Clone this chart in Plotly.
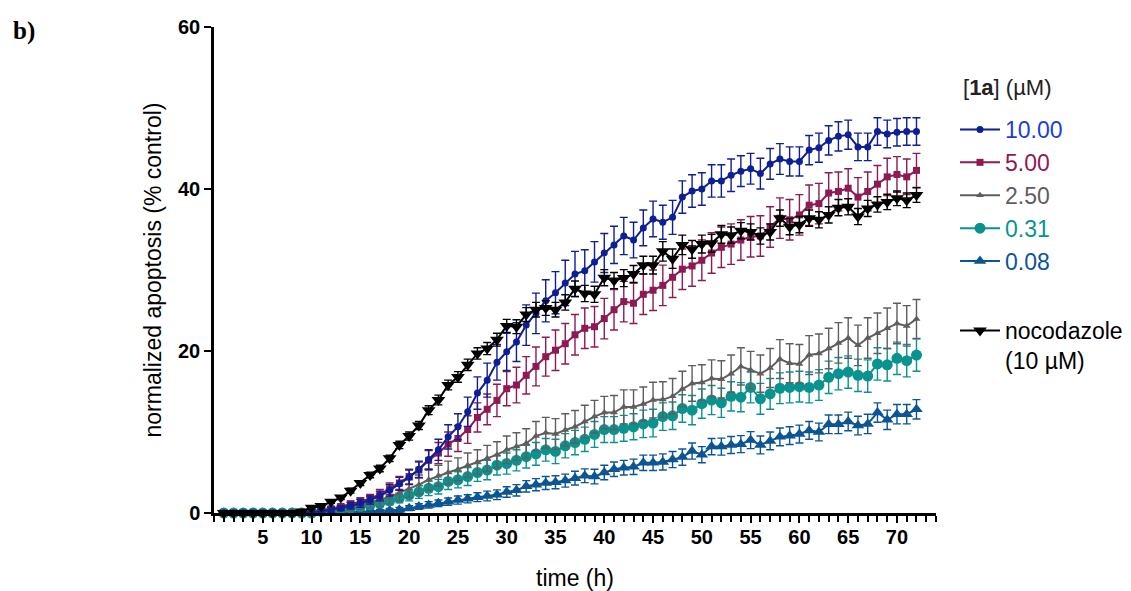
import plotly.graph_objects as go

hours = list(range(1, 73))

c10_00 = [0, 0, 0, 0, 0, 0, 0, 0, 0, 0.1,
          0.2, 0.4, 0.6, 0.9, 1.2, 1.6, 2.1, 2.8, 3.6, 4.4,
          5.4, 6.6, 7.8, 9.4, 10.65, 12.5, 14.8, 16.4, 18.6, 19.9,
          21.1, 23.2, 24.65, 26.2, 27.2, 28.4, 29.5, 29.9, 31.0, 32.1,
          33.1, 34.2, 33.7, 35.2, 36.3, 35.9, 36.5, 39.0, 39.75, 40.0,
          41.0, 41.0, 41.7, 42.2, 42.5, 41.9, 43.1, 43.7, 43.4, 43.4,
          44.8, 45.1, 46.0, 46.5, 46.7, 45.2, 45.2, 47.1, 46.8, 47.0,
          47.1, 47.1]
e10_00 = [0.1, 0.1, 0.1, 0.1, 0.1, 0.1, 0.1, 0.1, 0.1, 0.1,
          0.2, 0.3, 0.3, 0.4, 0.5, 0.5, 0.6, 0.7, 0.8, 0.9,
          1.0, 1.2, 1.3, 1.5, 1.6, 1.8, 2.0, 2.1, 2.2, 2.3,
          2.4, 2.5, 2.5, 2.6, 2.6, 2.8, 2.8, 2.6, 2.5, 2.4,
          2.3, 2.3, 2.2, 2.2, 2.2, 2.1, 2.1, 2.0, 2.0, 2.0,
          2.0, 2.0, 2.0, 1.9, 1.9, 1.9, 1.9, 1.9, 1.8, 1.8,
          1.8, 1.8, 1.8, 1.8, 1.8, 1.7, 1.7, 1.7, 1.7, 1.7,
          1.7, 1.7]

c5_00 = [0, 0, 0, 0, 0, 0, 0, 0, 0, 0.1,
         0.3, 0.5, 0.8, 1.1, 1.4, 1.8, 2.3, 3.0, 3.7, 4.5,
         5.3, 6.5, 7.4, 8.5, 9.2, 10.3, 11.8, 12.8, 13.9, 15.35,
         15.8, 17.0, 18.1, 19.3, 20.1, 20.9, 22.0, 22.8, 23.0, 24.0,
         25.1, 26.1, 25.9, 27.0, 27.5, 28.1, 29.1, 30.1, 30.5, 31.2,
         32.1, 32.8, 33.2, 33.7, 34.1, 34.2, 35.3, 36.4, 36.2, 36.8,
         38.0, 38.2, 39.5, 39.7, 40.1, 39.0, 39.7, 40.6, 41.5, 41.8,
         41.5, 42.3]
e5_00 = [0.1, 0.1, 0.1, 0.1, 0.1, 0.1, 0.1, 0.1, 0.1, 0.1,
         0.2, 0.3, 0.3, 0.4, 0.5, 0.5, 0.6, 0.7, 0.8, 0.9,
         1.0, 1.2, 1.3, 1.5, 1.6, 1.7, 1.8, 1.9, 2.0, 2.1,
         2.2, 2.3, 2.4, 2.4, 2.5, 2.5, 2.5, 2.5, 2.5, 2.5,
         2.5, 2.5, 2.5, 2.5, 2.5, 2.5, 2.5, 2.5, 2.5, 2.5,
         2.5, 2.5, 2.5, 2.5, 2.5, 2.5, 2.5, 2.5, 2.5, 2.5,
         2.5, 2.5, 2.5, 2.4, 2.4, 2.4, 2.4, 2.3, 2.3, 2.2,
         2.2, 2.1]

c2_50 = [0, 0, 0, 0, 0, 0, 0, 0, 0, 0.1,
         0.25, 0.4, 0.6, 0.8, 1.05, 1.3, 1.6, 2.0, 2.5, 3.0,
         3.5, 4.1, 4.6, 5.0, 5.4, 5.9, 6.3, 6.75, 7.2, 7.8,
         8.2, 8.6, 9.5, 9.9, 9.75, 10.25, 10.65, 11.3, 11.9, 12.4,
         12.4, 13.1, 13.1, 13.45, 13.95, 14.0, 14.4, 15.3, 16.0, 16.1,
         16.6, 16.5, 17.2, 18.1, 17.65, 17.2, 17.9, 19.0, 18.5, 18.4,
         19.5, 19.7, 20.3, 21.0, 21.6, 20.7, 21.6, 22.2, 22.8, 23.4,
         23.1, 23.95]
e2_50 = [0.1, 0.1, 0.1, 0.1, 0.1, 0.1, 0.1, 0.1, 0.1, 0.1,
         0.2, 0.3, 0.4, 0.5, 0.6, 0.7, 0.8, 0.9, 1.0, 1.1,
         1.2, 1.3, 1.3, 1.4, 1.4, 1.5, 1.5, 1.6, 1.6, 1.7,
         1.7, 1.8, 1.8, 1.9, 1.9, 2.0, 2.0, 2.0, 2.0, 2.0,
         2.1, 2.1, 2.1, 2.1, 2.2, 2.2, 2.2, 2.2, 2.2, 2.2,
         2.3, 2.3, 2.3, 2.3, 2.3, 2.3, 2.4, 2.4, 2.4, 2.4,
         2.4, 2.4, 2.5, 2.5, 2.5, 2.5, 2.5, 2.5, 2.5, 2.5,
         2.5, 2.4]

c0_31 = [0, 0, 0, 0, 0, 0, 0, 0, 0, 0,
         0.2, 0.3, 0.45, 0.6, 0.8, 1.0, 1.25, 1.5, 1.85, 2.2,
         2.6, 3.05, 3.25, 3.9, 4.1, 4.5, 5.0, 5.3, 5.9, 6.1,
         6.5, 6.95, 7.3, 7.8, 7.6, 8.3, 8.7, 9.1, 9.7, 10.3,
         10.3, 10.45, 10.65, 11.0, 11.1, 11.9, 12.0, 12.9, 12.7, 13.5,
         13.95, 13.6, 14.4, 14.3, 15.5, 14.1, 14.7, 15.4, 15.5, 15.6,
         15.5, 15.8, 16.75, 17.2, 17.4, 17.0, 16.9, 18.4, 18.3, 19.1,
         18.8, 19.5]
e0_31 = [0.1, 0.1, 0.1, 0.1, 0.1, 0.1, 0.1, 0.1, 0.1, 0.1,
         0.2, 0.2, 0.3, 0.3, 0.4, 0.4, 0.5, 0.5, 0.6, 0.7,
         0.8, 0.9, 0.9, 1.0, 1.0, 1.1, 1.1, 1.2, 1.2, 1.3,
         1.3, 1.4, 1.4, 1.4, 1.5, 1.5, 1.5, 1.5, 1.6, 1.6,
         1.6, 1.6, 1.6, 1.7, 1.7, 1.7, 1.7, 1.7, 1.8, 1.8,
         1.8, 1.8, 1.8, 1.8, 1.9, 1.9, 1.9, 1.9, 1.9, 1.9,
         1.9, 1.9, 2.0, 2.0, 2.0, 2.0, 2.0, 2.0, 2.0, 2.0,
         2.0, 2.0]

c0_08 = [0, 0, 0, 0, 0, 0, 0, 0, 0, 0,
         0, 0, 0.05, 0.1, 0.15, 0.2, 0.25, 0.3, 0.4, 0.6,
         0.8, 1.0, 1.2, 1.4, 1.6, 1.75, 1.95, 2.1, 2.25, 2.6,
         2.8, 3.3, 3.5, 3.7, 3.8, 4.0, 4.3, 4.6, 4.5, 5.0,
         5.4, 5.6, 5.7, 6.2, 6.2, 6.3, 6.6, 6.9, 7.65, 7.2,
         8.2, 8.2, 8.4, 8.5, 9.0, 8.4, 8.9, 9.4, 9.55, 9.75,
         10.2, 10.0, 10.95, 10.95, 11.3, 10.8, 11.0, 12.4, 11.5, 12.2,
         12.2, 12.8]
e0_08 = [0.05, 0.05, 0.05, 0.05, 0.05, 0.05, 0.05, 0.05, 0.05, 0.05,
         0.1, 0.1, 0.1, 0.15, 0.15, 0.2, 0.2, 0.25, 0.3, 0.3,
         0.35, 0.4, 0.4, 0.45, 0.5, 0.5, 0.55, 0.6, 0.6, 0.65,
         0.7, 0.7, 0.75, 0.8, 0.8, 0.8, 0.85, 0.85, 0.9, 0.9,
         0.9, 0.9, 0.95, 0.95, 0.95, 1.0, 1.0, 1.0, 1.0, 1.0,
         1.0, 1.05, 1.05, 1.05, 1.05, 1.1, 1.1, 1.1, 1.1, 1.1,
         1.1, 1.1, 1.15, 1.15, 1.15, 1.15, 1.2, 1.2, 1.2, 1.2,
         1.2, 1.2]

noco = [0, 0, 0, 0, 0, 0, 0, 0, 0.2, 0.66,
        0.86, 1.4, 1.9, 2.75, 3.7, 4.7, 5.5, 6.75, 8.4, 9.5,
        10.8, 12.7, 13.95, 15.8, 16.8, 18.3, 19.7, 20.3, 21.4, 23.1,
        23.0, 24.5, 25.1, 25.3, 25.1, 26.0, 27.7, 27.1, 27.0, 29.05,
        28.7, 29.0, 29.5, 30.6, 30.6, 32.3, 31.4, 33.1, 32.55, 33.2,
        33.3, 34.4, 34.3, 34.85, 34.7, 34.2, 34.7, 36.4, 35.35, 35.6,
        36.4, 36.2, 36.8, 37.7, 37.8, 36.6, 37.6, 38.1, 38.4, 38.85,
        38.6, 39.25]
e_noco = [0.05, 0.05, 0.05, 0.05, 0.05, 0.05, 0.05, 0.05, 0.1, 0.15,
          0.2, 0.2, 0.25, 0.3, 0.3, 0.35, 0.4, 0.4, 0.45, 0.5,
          0.5, 0.55, 0.6, 0.6, 0.65, 0.7, 0.7, 0.75, 0.8, 0.8,
          0.85, 0.85, 0.9, 0.9, 0.9, 0.95, 0.95, 1.0, 1.0, 1.0,
          1.0, 1.05, 1.05, 1.1, 1.1, 1.2, 1.2, 1.2, 1.1, 1.1,
          1.1, 1.1, 1.0, 1.0, 1.0, 1.0, 1.0, 1.0, 1.0, 1.0,
          1.0, 1.0, 1.0, 1.0, 1.0, 1.0, 1.0, 0.95, 0.95, 0.9,
          0.9, 0.9]

tick_vals = [5, 10, 15, 20, 25, 30, 35, 40, 45, 50, 55, 60, 65, 70]
y_ticks = [0, 20, 40, 60]

series = [
    # name, values, errors, line colour, text colour, symbol, size, rank
    ("0.08", c0_08, e0_08, "#0b5594", "#0b5594", "triangle-up", 11, 5),
    ("0.31", c0_31, e0_31, "#0a938e", "#0a938e", "circle", 11, 4),
    ("2.50", c2_50, e2_50, "#5e5e5e", "#5e5e5e", "triangle-up", 7, 3),
    ("5.00", c5_00, e5_00, "#8d1a52", "#8d1a52", "square", 7, 2),
    ("10.00", c10_00, e10_00, "#0e1f96", "#1c3ddb", "circle", 7, 1),
]

FONT = "Liberation Sans, Arial, sans-serif"
L, R, T, B = 214, 195, 27, 78
W, H = 1131, 591
pw, ph = W - L - R, H - T - B


def px(xp):
    return (xp - L) / pw


def py(yp):
    return (H - B - yp) / ph


fig = go.Figure()
for name, vals, errs, col, tcol, sym, size, rank in series:
    fig.add_trace(go.Scatter(
        x=hours, y=vals, mode="lines+markers",
        name=f"<span style='color:{tcol}'>{name}</span>",
        legendgroup=name, legendrank=rank, legend="legend",
        line=dict(color=col, width=2),
        marker=dict(symbol=sym, size=size, color=col, line=dict(width=0)),
        error_y=dict(type="data", array=errs, visible=True, color=col,
                     thickness=1.4, width=4),
        cliponaxis=False,
    ))

fig.add_trace(go.Scatter(
    x=hours, y=noco, mode="lines+markers",
    name="nocodazole<br>(10 µM)", legend="legend2",
    line=dict(color="black", width=2),
    marker=dict(symbol="triangle-down", size=12, color="black", line=dict(width=0)),
    error_y=dict(type="data", array=e_noco, visible=True, color="black",
                 thickness=1.4, width=4),
    cliponaxis=False,
))

fig.update_layout(
    width=W, height=H, autosize=False,
    margin=dict(l=L, r=R, t=T, b=B, autoexpand=False),
    paper_bgcolor="white", plot_bgcolor="white",
    font=dict(family=FONT, size=20, color="black"),
    showlegend=True,
    legend=dict(
        x=px(955), y=py(108), xanchor="left", yanchor="top",
        font=dict(size=23, family=FONT), tracegroupgap=0,
        bgcolor="rgba(0,0,0,0)", itemwidth=40,
    ),
    legend2=dict(
        x=px(955), y=py(309), xanchor="left", yanchor="top",
        font=dict(size=23, family=FONT, color="black"),
        bgcolor="rgba(0,0,0,0)", valign="top", itemwidth=40,
    ),
    annotations=[
        dict(text="<b>b)</b>", x=px(11), y=py(31), xref="paper", yref="paper",
             xanchor="left", yanchor="middle", showarrow=False,
             font=dict(family="Liberation Serif, Times New Roman, serif", size=25)),
        dict(text="[<b>1a</b>] (µM)", x=px(961), y=py(87), xref="paper", yref="paper",
             xanchor="left", yanchor="middle", showarrow=False,
             font=dict(family=FONT, size=22, color="#222")),
    ],
)

fig.update_xaxes(
    range=[0, 74], showgrid=False, zeroline=False,
    showline=True, linecolor="black", linewidth=2.5,
    ticks="outside", tickwidth=2, ticklen=7, tickcolor="black",
    tickmode="array", tickvals=tick_vals, ticktext=[str(v) for v in tick_vals],
    tickfont=dict(size=20, family=FONT, weight="bold"),
    ticklabelstandoff=-3,
    minor=dict(ticks="outside", dtick=1, tick0=0, ticklen=6, tickwidth=2, tickcolor="black", showgrid=False),
    title=dict(text="time (h)", standoff=29, font=dict(size=23)),
    automargin=False,
)
fig.update_yaxes(
    range=[0, 60], showgrid=False, zeroline=False,
    showline=True, linecolor="black", linewidth=2.5,
    ticks="outside", tickwidth=2, ticklen=7, tickcolor="black",
    tickvals=y_ticks, ticktext=[str(v) for v in y_ticks],
    tickfont=dict(size=20, family=FONT, weight="bold"),
    title=dict(text="normalized apoptosis (% control)", standoff=10, font=dict(size=23)),
    automargin=False,
)

fig.write_html(
    "out.html",
    config={"displayModeBar": False, "responsive": False},
    post_script=(
        "document.documentElement.style.overflow='hidden';"
        "document.body.style.overflow='hidden';"
        "document.body.style.margin='0';"
    ),
)
